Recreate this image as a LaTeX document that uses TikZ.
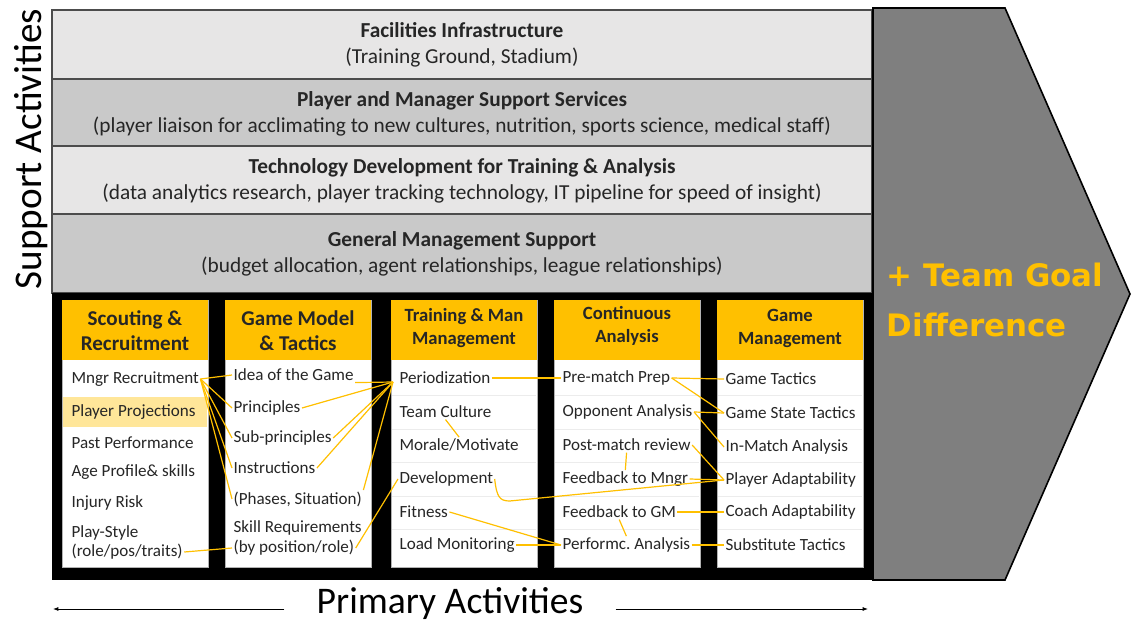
\documentclass[tikz,border=0pt]{standalone}
\usepackage{fontspec}
\setmainfont{Carlito}
\newfontfamily\goalfont{DejaVu Sans}
\usetikzlibrary{arrows.meta,calc,positioning}

\definecolor{gold}{HTML}{FFC000}
\definecolor{paleGold}{HTML}{FFE699}
\definecolor{supLight}{HTML}{E7E6E6}
\definecolor{supDark}{HTML}{C9C9C9}
\definecolor{chevron}{HTML}{7F7F7F}

\begin{document}
\begin{tikzpicture}[x=0.75pt,y=-0.75pt,
  item/.style={anchor=west,inner sep=1pt,text=black!85,
    font=\fontsize{12.8}{14.5}\selectfont},
  head/.style={align=center,text=black!85,
    font=\bfseries\fontsize{15.8}{18.8}\selectfont},
  smallhead/.style={head,font=\bfseries\fontsize{14}{17.2}\selectfont},
  supp/.style={align=center,text=black!85,
    font=\fontsize{16}{19.5}\selectfont},
  link/.style={draw=gold,line width=0.9pt}]
  \useasboundingbox (0,0) rectangle (1132,624);

  % support activities
  \foreach \top/\bot/\shade in {10/79/supLight,79/146/supDark,146/214/supLight,214/293/supDark}
    \draw[black!70,line width=1.1pt,fill=\shade] (52,\top) rectangle (872,\bot);
  \node[supp] (facil) at (462,45)
    {\textbf{Facilities Infrastructure}\\(Training Ground,  Stadium)};
  \node[supp] (services) at (462,114)
    {\textbf{Player and Manager Support Services}\\(player liaison for acclimating to new cultures, nutrition, sports science, medical staff)};
  \node[supp] (tech) at (462,181)
    {\textbf{Technology Development for Training \& Analysis}\\(data analytics research, player tracking technology, IT pipeline for speed of insight)};
  \node[supp] (general) at (462,254)
    {\textbf{General Management Support}\\(budget allocation, agent relationships, league relationships)};
  \node[rotate=90,text=black,font=\fontsize{29.4}{32}\selectfont] (support) at (31,149) {Support Activities};

  % margin chevron
  \draw[black,line width=1.2pt,fill=chevron]
    (873,8) -- (1005,8) -- (1130,294) -- (1005,580) -- (873,580) -- cycle;
  \node[anchor=west,align=left,text=gold,
        font=\goalfont\bfseries\fontsize{23.2}{37.5}\selectfont] (goal) at (882,300)
    {+ Team Goal\\Difference};

  % primary activities
  \fill[black] (52,293) rectangle (873,580);
  \foreach \x in {62,225,391,554,717} {
    \draw[gray!60,fill=white] (\x,300) rectangle ++(146,267);
    \fill[gold] (\x,300) rectangle ++(146,60);
  }
  \foreach \x in {391,554,717}
    \foreach \y in {395,429,462,496,529}
      \draw[gray!15] (\x+1,\y) -- ++(144,0);
  \fill[paleGold] (63,397) rectangle (207,427);

  \node[head] (scout) at (135,331) {Scouting \&\\Recruitment};
  \node[head] (model) at (298,331) {Game Model\\\& Tactics};
  \node[smallhead] (training) at (464,328) {Training \& Man\\Management};
  \node[smallhead] (analysis) at (627,326) {Continuous\\Analysis};
  \node[smallhead] (gamemgmt) at (790,328) {Game\\Management};

  \node[item] (mngr) at (70,379) {Mngr Recruitment};
  \node[item] (proj) at (70,412) {Player Projections};
  \node[item] (past) at (70,443) {Past Performance};
  \node[item] (age) at (70,472) {Age Profile\& skills};
  \node[item] (injury) at (70,503) {Injury Risk};
  \node[item] (style) at (70,533) {Play-Style};
  \node[item] (stylepos) at (70,552) {(role/pos/traits)};

  \node[item] (idea) at (232,375) {Idea of the Game};
  \node[item] (princ) at (232,408) {Principles};
  \node[item] (subpr) at (232,438) {Sub-principles};
  \node[item] (instr) at (232,468) {Instructions};
  \node[item] (phase) at (232,499) {(Phases, Situation)};
  \node[item] (skill) at (232,528) {Skill Requirements};
  \node[item] (skillpos) at (232,548) {(by position/role)};

  \node[item] (period) at (398,378) {Periodization};
  \node[item] (culture) at (398,412) {Team Culture};
  \node[item] (morale) at (398,445) {Morale/Motivate};
  \node[item] (devel) at (398,479) {Development};
  \node[item] (fitness) at (398,512) {Fitness};
  \node[item] (load) at (398,545) {Load Monitoring};

  \node[item] (prep) at (561,378) {Pre-match Prep};
  \node[item] (oppo) at (561,412) {Opponent Analysis};
  \node[item] (review) at (561,445) {Post-match review};
  \node[item] (fbmngr) at (561,479) {Feedback to Mngr};
  \node[item] (fbgm) at (561,512) {Feedback to GM};
  \node[item] (perf) at (561,545) {Performc.\ Analysis};

  \node[item] (tactics) at (724,379) {Game Tactics};
  \node[item] (state) at (724,413) {Game State Tactics};
  \node[item] (inmatch) at (724,447) {In-Match Analysis};
  \node[item] (adapt) at (724,480) {Player Adaptability};
  \node[item] (coach) at (724,512) {Coach Adaptability};
  \node[item] (subs) at (724,545) {Substitute Tactics};

  % links between activities
  \foreach \tgt in {idea,princ,subpr,instr,phase}
    \draw[link] (mngr.east) -- (\tgt.west);
  \draw[link] (stylepos.east) -- (skillpos.west);
  \coordinate (hub) at ($(period.west)+(-5,4)$);
  \foreach \src in {idea.south east,princ.east,subpr.east,instr.east,phase.north east}
    \draw[link] (\src) -- (hub);
  \draw[link] (skillpos.east) -- (devel.west);
  \draw[link] (period.east) -- (prep.west);
  \draw[link] (culture.south) -- (morale.north);
  \coordinate (dip) at ($(devel.east)+(15,22)$);
  \draw[link] (devel.east) .. controls ($(devel.east)+(2,18)$) and ($(dip)+(-10,0)$) .. (dip)
    -- (adapt.west);
  \draw[link] (fitness.east) -- (perf.west);
  \draw[link] (load.east) -- (perf.west);
  \draw[link] (review.south) -- (fbmngr.north);
  \draw[link] (fbgm.south) -- (perf.north);
  \draw[link] (prep.east) -- (tactics.west);
  \draw[link] (prep.east) -- (state.west);
  \draw[link] (oppo.east) -- (state.west);
  \draw[link] (oppo.east) -- (inmatch.west);
  \draw[link] (review.east) -- (adapt.west);
  \draw[link] (fbmngr.east) -- (adapt.west);
  \draw[link] (fbgm.east) -- (coach.west);
  \draw[link] (perf.east) -- (subs.west);

  % bottom caption
  \node[inner xsep=24pt,text=black,font=\fontsize{28.2}{30}\selectfont] (primary) at (450,604) {Primary Activities};
  \coordinate (leftEnd) at (53,609);
  \coordinate (rightEnd) at (868,609);
  \draw[-{Latex[length=4pt,width=3pt]},line width=0.7pt] (primary.west |- leftEnd) -- (leftEnd);
  \draw[-{Latex[length=4pt,width=3pt]},line width=0.7pt] (primary.east |- rightEnd) -- (rightEnd);
\end{tikzpicture}
\end{document}
